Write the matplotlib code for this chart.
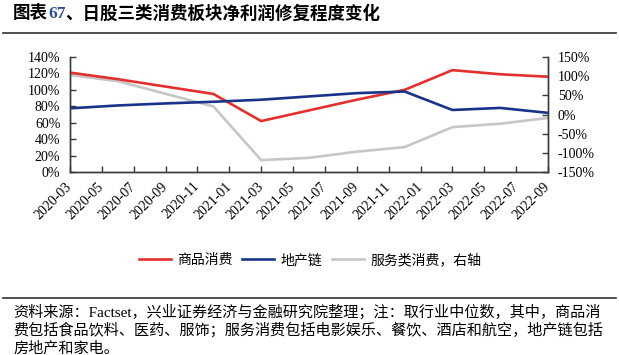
import matplotlib
matplotlib.use("Agg")
import matplotlib.pyplot as plt
from matplotlib.lines import Line2D
import numpy as np

CJK = ["Liberation Serif", "Noto Sans CJK SC"]

# quarterly data points (month offset from 2020-03)
dates = ["2020-03", "2020-06", "2020-09", "2020-12", "2021-03", "2021-06",
         "2021-09", "2021-12", "2022-03", "2022-06", "2022-09"]
goods = [121, 113, 104, 95, 62, 75, 88, 100, 124, 119, 116]          # 商品消费, %
property_chain = [77.5, 81, 83.5, 85.5, 88, 92, 96, 98, 75.5, 78, 72]  # 地产链, %
services = [103, 87, 54, 21, -119, -113, -97, -85, -33, -24, -9]    # 服务类消费, 右轴, %

tick_labels = ["2020-03", "2020-05", "2020-07", "2020-09", "2020-11",
               "2021-01", "2021-03", "2021-05", "2021-07", "2021-09", "2021-11",
               "2022-01", "2022-03", "2022-05", "2022-07", "2022-09"]


def month_idx(s):
    y, m = s.split("-")
    return (int(y) - 2020) * 12 + int(m) - 3


x = np.array([month_idx(d) for d in dates])
xt = np.array([month_idx(d) for d in tick_labels])

RED = "#E3302F"
NAVY = "#17338A"
GRAY = "#C6C6C6"
AXC = "#3A3A3A"

W, H = 619, 355
fig = plt.figure(figsize=(W / 100, H / 100), dpi=100)

# title + rule
fig.canvas.draw()
r = fig.canvas.get_renderer()
tx, ty = 13 / W, 1 - 14 / H
parts = [("图表", "black"), ("67", "#2F4F96"), ("、日股三类消费板块净利润修复程度变化", "black")]
for s, c in parts:
    t = fig.text(tx, ty, s, family=CJK, fontsize=12.6, fontweight="bold",
                 color=c, ha="left", va="center")
    bb = t.get_window_extent(renderer=r)
    tx = bb.x1 / W
fig.add_artist(Line2D([3 / W, 616 / W], [1 - 33 / H] * 2, color="#333333", lw=1.2))

ax = fig.add_axes([70 / W, 1 - 172 / H, (548 - 70) / W, (172 - 57) / H])
ax2 = ax.twinx()
ax.set_zorder(ax2.get_zorder() + 1)
ax.patch.set_visible(False)

l3, = ax2.plot(x, services, color=GRAY, lw=1.9, label="服务类消费，右轴")
l1, = ax.plot(x, goods, color=RED, lw=1.9, label="商品消费")
l2, = ax.plot(x, property_chain, color=NAVY, lw=1.9, label="地产链")

ax.set_xlim(0, 30)
ax.set_ylim(0, 140)
ax.set_yticks(np.arange(0, 141, 20))
ax.set_yticklabels([f"{v}%" for v in range(0, 141, 20)])
ax2.set_ylim(-150, 150)
ax2.set_yticks(np.arange(-150, 151, 50))
ax2.set_yticklabels([f"{v}%" for v in range(-150, 151, 50)])
ax.set_xticks(xt)
ax.set_xticklabels(tick_labels, rotation=45, ha="right", va="center",
                   rotation_mode="anchor")

for a in (ax, ax2):
    a.spines["top"].set_visible(False)
    for sp in a.spines.values():
        sp.set_color(AXC)
        sp.set_linewidth(1.0)
    a.tick_params(direction="in", length=4.5, width=1.0, color=AXC,
                  labelsize=10, labelcolor="black")
    for lab in a.get_xticklabels() + a.get_yticklabels():
        lab.set_family("Liberation Serif")
ax.tick_params(axis="y", pad=7)
ax.tick_params(axis="x", pad=9)
ax2.tick_params(axis="y", pad=7)

leg = fig.legend([l1, l2, l3], ["商品消费", "地产链", "服务类消费，右轴"],
                 loc="center", bbox_to_anchor=(310 / W, 1 - 260 / H), ncol=3,
                 frameon=False, prop={"family": CJK, "size": 10},
                 handlelength=2.3, handletextpad=0.45, columnspacing=0.7)

# footnote
fig.add_artist(Line2D([3 / W, 616 / W], [1 - 297.5 / H] * 2, color="#333333", lw=1.2))
notes = ["资料来源：Factset，兴业证券经济与金融研究院整理；注：取行业中位数，其中，商品消",
         "费包括食品饮料、医药、服饰；服务消费包括电影娱乐、餐饮、酒店和航空，地产链包括",
         "房地产和家电。"]
for i, s in enumerate(notes):
    fig.text(13 / W, 1 - (311.5 + 18.3 * i) / H, s, family=CJK, fontsize=10.9,
             ha="left", va="center", color="black")

fig.savefig("out.png", dpi=100)
